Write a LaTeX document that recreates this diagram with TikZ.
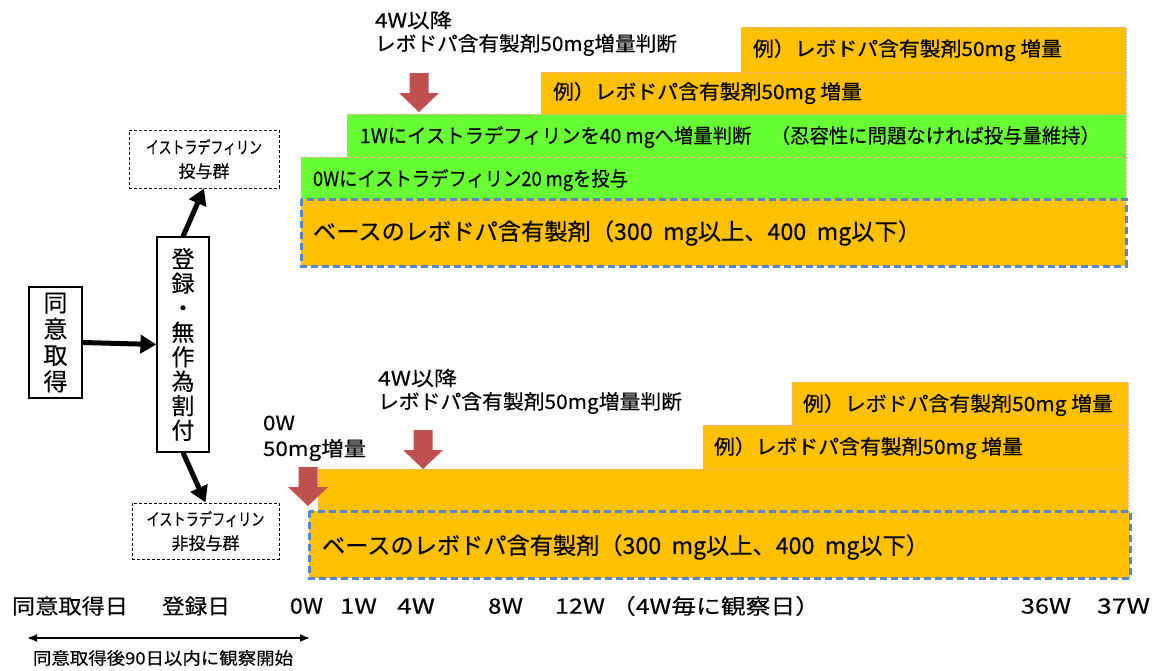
\documentclass[tikz,border=0pt]{standalone}
\usepackage{fontspec}
\setmainfont{Noto Sans CJK JP}[FakeBold=0.25]
\usetikzlibrary{arrows.meta}
\definecolor{orng}{HTML}{FFC000}
\definecolor{grn}{HTML}{66FF33}
\definecolor{redarr}{HTML}{C0504D}
\definecolor{dblue}{HTML}{5585CC}
\definecolor{edgeor}{HTML}{F4B183}
\newcommand\fw[2]{\resizebox{#1pt}{\height}{#2}}
\begin{document}
\begin{tikzpicture}[x=1pt,y=-1pt,
  lbl/.style={anchor=west, inner sep=0pt, outer sep=0pt},
  barfont/.style={font=\fontsize{20}{24}\selectfont},
  basefont/.style={font=\fontsize{23}{27}\selectfont},
  axisfont/.style={font=\fontsize{21}{25}\selectfont},
  orangebar/.style={fill=orng, draw=edgeor, line width=0.6pt, densely dotted},
  greenbar/.style={fill=grn, draw=edgeor, line width=0.6pt, densely dotted},
  basebox/.style={fill=orng, draw=dblue, line width=3pt, dash pattern=on 7pt off 4pt},
  grpbox/.style={draw=black, line width=0.9pt, dash pattern=on 3pt off 2pt, inner sep=0pt, align=center, font=\fontsize{17}{24}\selectfont},
  vbox/.style={draw=black, line width=1.2pt, inner sep=0pt, align=center},
  blk/.style={line width=5pt, -{Triangle[length=16pt,width=18pt]}},
  redarrow/.pic={\fill[redarr] (-9.5,-39) -- (9.5,-39) -- (9.5,-19) -- (20,-19) -- (0,0) -- (-20,-19) -- (-9.5,-19) -- cycle;}
]
\useasboundingbox (0,0) rectangle (1159,670);

% ---------- top group ----------
\filldraw[orangebar] (741,27) rectangle (1126,72);
\filldraw[orangebar] (541,72) rectangle (1126,114);
\filldraw[greenbar] (347,114) rectangle (1126,157);
\filldraw[greenbar] (301,157) rectangle (1126,199);
\filldraw[basebox] (301,199) rectangle (1126,266);

\node[lbl,barfont] (t1a) at (375,20) {\fw{77}{4W以降}};
\node[lbl,barfont] (t1b) at (375,45) {\fw{302}{レボドパ含有製剤50mg増量判断}};
\node[lbl,barfont] (ob1) at (753,50) {\fw{309}{例）レボドパ含有製剤50mg 増量}};
\node[lbl,barfont] (ob2) at (553,93) {\fw{309}{例）レボドパ含有製剤50mg 増量}};
\node[lbl,barfont] (gb1) at (360,137) {\fw{740}{1Wにイストラデフィリンを40 mgへ増量判断　（忍容性に問題なければ投与量維持）}};
\node[lbl,barfont] (gb2) at (313,180) {\fw{315}{0Wにイストラデフィリン20 mgを投与}};
\node[lbl,basefont] (base1) at (313,233) {\fw{608}{ベースのレボドパ含有製剤（300\ \ mg以上、400\ \ mg以下）}};
\pic at (419,112) {redarrow};

% ---------- bottom group ----------
\filldraw[orangebar] (792,382) rectangle (1128,425);
\filldraw[orangebar] (703,425) rectangle (1128,469);
\filldraw[orangebar] (318,469) rectangle (1128,511);
\filldraw[basebox] (309,511) rectangle (1130,578);

\node[lbl,barfont] (b4a) at (378,378) {\fw{79}{4W以降}};
\node[lbl,barfont] (b4b) at (378,403) {\fw{304}{レボドパ含有製剤50mg増量判断}};
\node[lbl,barfont] (b0a) at (263,423) {\fw{32}{0W}};
\node[lbl,barfont] (b0b) at (263,450) {\fw{103}{50mg増量}};
\node[lbl,barfont] (ob3) at (803,405) {\fw{310}{例）レボドパ含有製剤50mg 増量}};
\node[lbl,barfont] (ob4) at (714,448) {\fw{309}{例）レボドパ含有製剤50mg 増量}};
\node[lbl,basefont] (base2) at (322,547) {\fw{607}{ベースのレボドパ含有製剤（300\ \ mg以上、400\ \ mg以下）}};
\pic at (308,506) {redarrow};
\pic at (423,469) {redarrow};

% ---------- left flow ----------
\node[vbox, minimum width=53pt, minimum height=111pt, font=\fontsize{24}{26.3}\selectfont] (consent) at (55.5,342.5) {同\\意\\取\\得};
\node[vbox, minimum width=52pt, minimum height=215pt, font=\fontsize{23}{24.5}\selectfont] (reg) at (183,344.5) {登\\録\\・\\無\\作\\為\\割\\付};
\node[grpbox, minimum width=150pt, minimum height=58pt] (grp1) at (204,159) {\fw{116}{イストラデフィリン}\\投与群};
\node[grpbox, minimum width=147pt, minimum height=56pt] (grp2) at (205.5,531) {\fw{118}{イストラデフィリン}\\非投与群};

\draw[blk] (consent.east) -- (reg.west);
\draw[blk] (reg.north) -- (grp1.south);
\draw[blk] (reg.south) -- (grp2.north);

% ---------- axis ----------
\node[lbl,axisfont] (ax1) at (12,606) {\fw{116}{同意取得日}};
\node[lbl,axisfont] (ax2) at (162,606) {\fw{68}{登録日}};
\node[lbl,axisfont] (ax3) at (290,606) {\fw{33}{0W}};
\node[lbl,axisfont] (ax4) at (340,606) {\fw{37}{1W}};
\node[lbl,axisfont] (ax5) at (397,606) {\fw{38}{4W}};
\node[lbl,axisfont] (ax6) at (488,606) {\fw{35}{8W}};
\node[lbl,axisfont] (ax7) at (555,606) {\fw{50}{12W}};
\node[lbl,axisfont] (ax8) at (611,606) {\fw{209}{（4W毎に観察日）}};
\node[lbl,axisfont] (ax9) at (1021,606) {\fw{50}{36W}};
\node[lbl,axisfont] (ax10) at (1097,606) {\fw{53}{37W}};

\coordinate (dl) at (27,638);
\coordinate (dr) at (310,638);
\draw[line width=1.6pt, {Latex[length=10pt,width=8pt]}-{Latex[length=10pt,width=8pt]}] (dl) -- (dr);
\node[lbl,font=\fontsize{17}{20}\selectfont] (cap) at (33,658) {\fw{260}{同意取得後90日以内に観察開始}};
\end{tikzpicture}
\end{document}
